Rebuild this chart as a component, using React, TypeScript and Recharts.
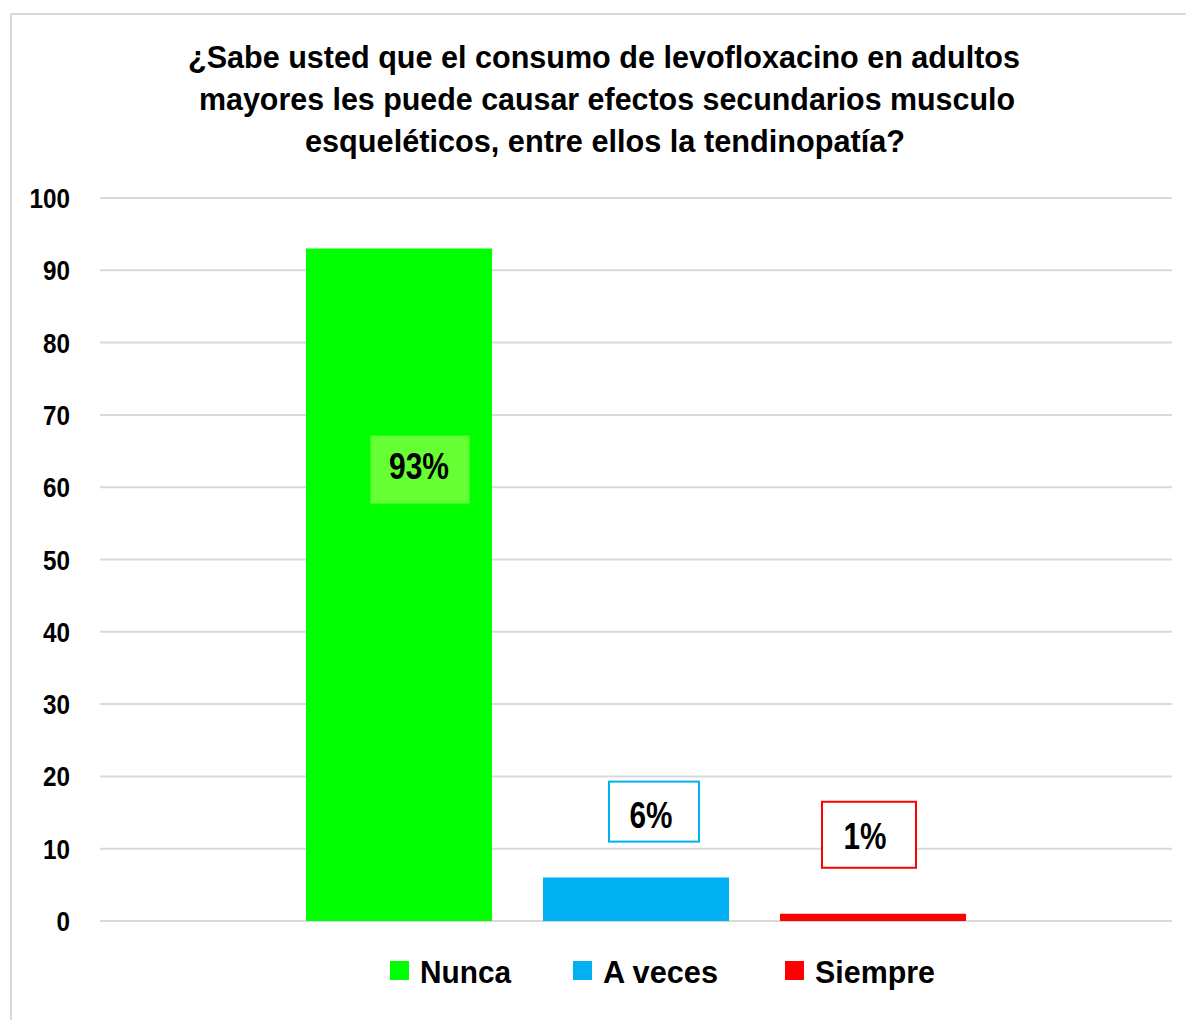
import React from "react";
import { BarChart, Bar, XAxis, YAxis, CartesianGrid, LabelList, Legend } from "recharts";

const categories = ["Respuesta"];
const seriesNames = ["Nunca", "A veces", "Siempre"];
const seriesValues = [93, 6, 1];
const labelTexts = ["93%", "6%", "1%"];
const yTicks = [0, 10, 20, 30, 40, 50, 60, 70, 80, 90, 100];
const titleLines = [
  "¿Sabe usted que el consumo de levofloxacino en adultos",
  "mayores les puede causar efectos secundarios musculo",
  "esqueléticos, entre ellos la tendinopatía?",
];

const COLORS = ["#00ff00", "#00b0f0", "#ff0000"];
const FONT = "'Liberation Sans Narrow', 'Arial Narrow', 'Liberation Sans', Arial, sans-serif";

// rendered widths (to emulate a narrow font)
const TITLE_WIDTHS = [832, 816, 600];
const LABEL_WIDTHS = [60, 43, 43];
const LEGEND_WIDTHS = [91, 115, 120];
const TICK_CHAR_W = 13.5;

// label box styling (offsets relative to bar top centre)
const LABEL_STYLE = [
  { dx: 21, dy: 221, w: 99, h: 68, fill: "#66ff33", stroke: "none", tdx: -1, tdy: 9 },
  { dx: 18, dy: -66, w: 90, h: 60, fill: "#ffffff", stroke: "#00b0f0", tdx: -3, tdy: 16 },
  { dx: -4, dy: -79, w: 94, h: 66, fill: "#ffffff", stroke: "#ff0000", tdx: -4, tdy: 14 },
];
const LEGEND_X = [390, 573, 785];

const data = categories.map((c) => {
  const row: any = { name: c };
  seriesNames.forEach((s, i) => {
    row[s] = seriesValues[i];
  });
  return row;
});

const makeLabel = (i: number) => (props: any) => {
  const { x, y, width } = props;
  const st = LABEL_STYLE[i];
  const cx = x + width / 2 + st.dx;
  const cy = y + st.dy;
  return (
    <g>
      <rect
        x={cx - st.w / 2}
        y={cy - st.h / 2}
        width={st.w}
        height={st.h}
        fill={st.fill}
        stroke={st.stroke}
        strokeWidth={2}
      />
      <text
        x={cx - LABEL_WIDTHS[i] / 2 + st.tdx}
        y={cy + st.tdy}
        textLength={LABEL_WIDTHS[i]}
        lengthAdjust="spacingAndGlyphs"
        fontFamily={FONT}
        fontWeight="bold"
        fontSize={37}
        fill="#000"
      >
        {labelTexts[i]}
      </text>
    </g>
  );
};

const YTick = (props: any) => {
  const { x, y, payload } = props;
  const s = String(payload.value);
  const w = s.length * TICK_CHAR_W;
  return (
    <text
      x={x - w}
      y={y + 10}
      textLength={w}
      lengthAdjust="spacingAndGlyphs"
      fontFamily={FONT}
      fontWeight="bold"
      fontSize={28}
      fill="#000"
    >
      {s}
    </text>
  );
};

const LegendContent = () => (
  <svg width={1186} height={50} style={{ display: "block" }}>
    {seriesNames.map((s, i) => (
      <g key={s}>
        <rect x={LEGEND_X[i]} y={11} width={19} height={19} fill={COLORS[i]} />
        <text
          x={LEGEND_X[i] + 30}
          y={33}
          textLength={LEGEND_WIDTHS[i]}
          lengthAdjust="spacingAndGlyphs"
          fontFamily={FONT}
          fontWeight="bold"
          fontSize={32}
          fill="#000"
        >
          {s}
        </text>
      </g>
    ))}
  </svg>
);

export default function App() {
  return (
    <div style={{ position: "absolute", left: 0, top: 0, width: 1186, height: 1020, overflow: "hidden", background: "#fff" }}>
      <div
        style={{
          position: "absolute",
          left: 10,
          top: 13,
          width: 1200,
          height: 1040,
          border: "2px solid #d9d9d9",
          boxSizing: "border-box",
        }}
      />
      <svg style={{ position: "absolute", left: 0, top: 0 }} width={1186} height={190}>
        {titleLines.map((t, i) => (
          <text
            key={i}
            x={605 - TITLE_WIDTHS[i] / 2 - (i === 0 ? 1 : i === 1 ? -2 : 0)}
            y={68 + i * 42}
            textLength={TITLE_WIDTHS[i]}
            lengthAdjust="spacingAndGlyphs"
            fontFamily={FONT}
            fontWeight="bold"
            fontSize={32}
            fill="#000"
          >
            {t}
          </text>
        ))}
      </svg>
      <div style={{ position: "absolute", left: 0, top: 0 }}>
        <BarChart
          width={1186}
          height={1020}
          data={data}
          margin={{ top: 198, right: 14, bottom: 49, left: 0 }}
          barGap={51}
        >
          <CartesianGrid vertical={false} stroke="#d9d9d9" strokeWidth={2} />
          <XAxis dataKey="name" hide />
          <YAxis
            width={100}
            domain={[0, 100]}
            ticks={yTicks}
            interval={0}
            axisLine={false}
            tickLine={false}
            tickSize={0}
            tickMargin={30}
            tick={<YTick />}
          />
          {seriesNames.map((s, i) => (
            <Bar key={s} dataKey={s} fill={COLORS[i]} barSize={186} isAnimationActive={false}>
              <LabelList dataKey={s} content={makeLabel(i)} />
            </Bar>
          ))}
          <Legend
            content={<LegendContent />}
            wrapperStyle={{ position: "absolute", left: 0, top: 950, width: 1186, height: 50, bottom: "auto" }}
          />
        </BarChart>
      </div>
    </div>
  );
}
